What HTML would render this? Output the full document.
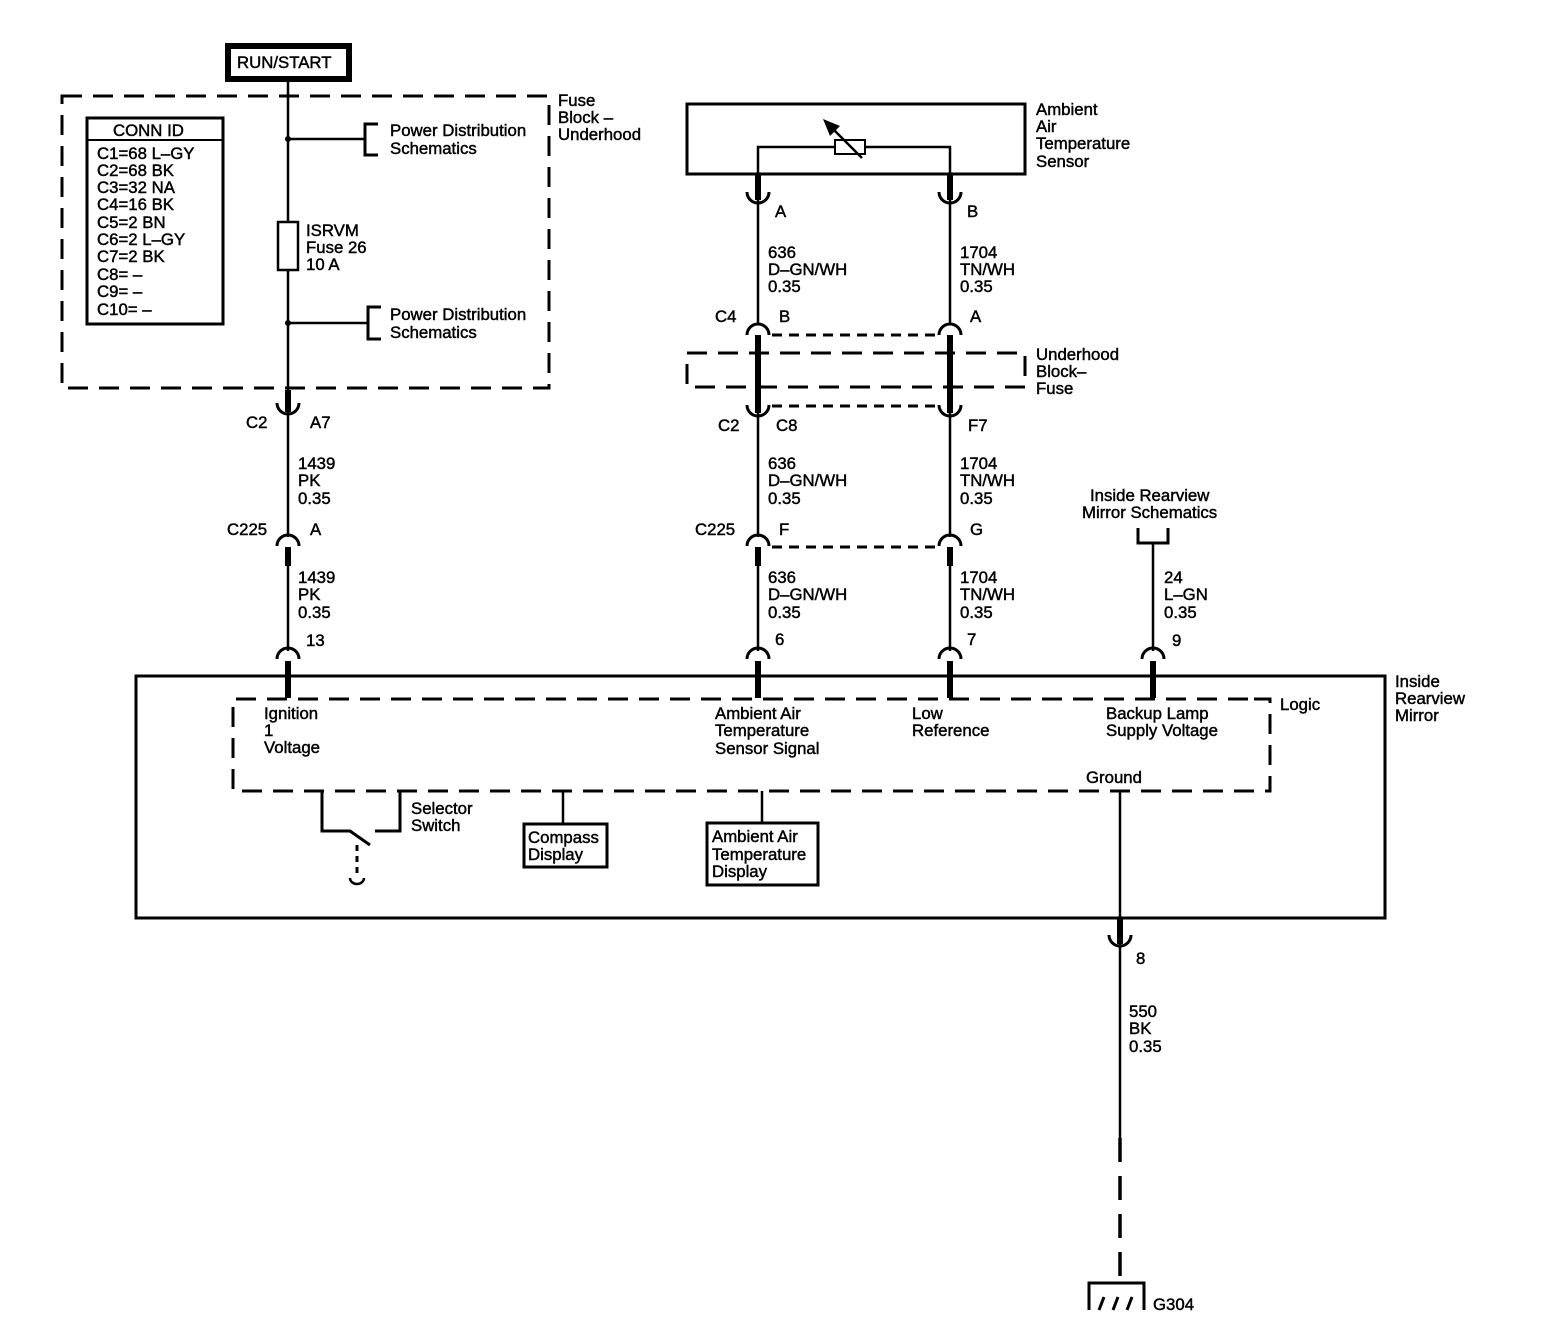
<!DOCTYPE html>
<html><head><meta charset="utf-8"><style>
html,body{margin:0;padding:0;background:#fff}
svg{display:block}
text{font-family:"Liberation Sans",Arial,sans-serif;font-size:16.8px;fill:#000;stroke:#000;stroke-width:0.45}
</style></head><body>
<svg width="1558" height="1344" viewBox="0 0 1558 1344" xmlns="http://www.w3.org/2000/svg">
<defs>
<g id="cupU"><path d="M-11,-8 A11,11 0 0 0 11,-8" fill="none" stroke="#000" stroke-width="3"/></g>
<g id="cupD"><path d="M-11,8 A11,11 0 0 1 11,8" fill="none" stroke="#000" stroke-width="3"/></g>
</defs>
<g fill="none" stroke="#000">
<rect x="228" y="46" width="121" height="33" stroke-width="6"/>
<rect x="62" y="96" width="487" height="292" stroke-width="3" stroke-dasharray="20,11"/>
<rect x="87" y="118" width="136" height="206" stroke-width="3"/>
<line x1="87" y1="140" x2="223" y2="140" stroke-width="2"/>
<line x1="288" y1="79" x2="288" y2="222" stroke-width="2.5"/>
<line x1="288" y1="270" x2="288" y2="390" stroke-width="2.5"/>
<rect x="278" y="222" width="20" height="48" stroke-width="2.5"/>
<line x1="288" y1="139" x2="365" y2="139" stroke-width="2.5"/>
<circle cx="288" cy="139" r="2.5" fill="#000"/>
<path d="M378,124 H365 V155 H378" stroke-width="3"/>
<line x1="288" y1="323" x2="368" y2="323" stroke-width="2.5"/>
<circle cx="288" cy="323" r="2.5" fill="#000"/>
<path d="M381,307 H368 V339 H381" stroke-width="3"/>
<line x1="288" y1="390" x2="288" y2="412" stroke-width="6"/>
<line x1="288" y1="412" x2="288" y2="537" stroke-width="2.5"/>
<line x1="288" y1="547" x2="288" y2="566" stroke-width="6"/>
<line x1="288" y1="566" x2="288" y2="651" stroke-width="2.5"/>
<line x1="288" y1="661" x2="288" y2="698" stroke-width="6"/>
<rect x="687" y="104" width="338" height="70" stroke-width="3"/>
<path d="M758,174 V147 H835 M865,147 H950 V174" stroke-width="2.5"/>
<rect x="835" y="140" width="30" height="14" stroke-width="2"/>
<line x1="862" y1="158" x2="830" y2="126" stroke-width="2.5"/>
<line x1="758" y1="174" x2="758" y2="200" stroke-width="6"/>
<line x1="950" y1="174" x2="950" y2="200" stroke-width="6"/>
<line x1="758" y1="200" x2="758" y2="324" stroke-width="2.5"/>
<line x1="950" y1="200" x2="950" y2="324" stroke-width="2.5"/>
<line x1="758" y1="335" x2="758" y2="413" stroke-width="6"/>
<line x1="950" y1="335" x2="950" y2="413" stroke-width="6"/>
<line x1="758" y1="413" x2="758" y2="537" stroke-width="2.5"/>
<line x1="950" y1="413" x2="950" y2="537" stroke-width="2.5"/>
<line x1="758" y1="547" x2="758" y2="566" stroke-width="6"/>
<line x1="950" y1="547" x2="950" y2="566" stroke-width="6"/>
<line x1="758" y1="566" x2="758" y2="651" stroke-width="2.5"/>
<line x1="950" y1="566" x2="950" y2="651" stroke-width="2.5"/>
<line x1="758" y1="661" x2="758" y2="698" stroke-width="6"/>
<line x1="950" y1="661" x2="950" y2="698" stroke-width="6"/>
<line x1="772" y1="335" x2="940" y2="335" stroke-width="3" stroke-dasharray="10,7"/>
<line x1="772" y1="406" x2="940" y2="406" stroke-width="3" stroke-dasharray="10,7"/>
<line x1="772" y1="547" x2="940" y2="547" stroke-width="3" stroke-dasharray="10,7"/>
<rect x="687" y="353" width="338" height="34" stroke-width="3" stroke-dasharray="20,11"/>
<path d="M1138,528 V543 H1168 V528" stroke-width="3"/>
<line x1="1153" y1="543" x2="1153" y2="651" stroke-width="2.5"/>
<line x1="1153" y1="661" x2="1153" y2="698" stroke-width="6"/>
<rect x="136" y="676" width="1249" height="242" stroke-width="3"/>
<path d="M1254,699 H1270 V791 H233 V699 H1254" stroke-width="3" stroke-dasharray="20,11"/>
<path d="M322,791 V831 H350 L370,845" stroke-width="3"/>
<path d="M375,831 H400 V791" stroke-width="3"/>
<line x1="357" y1="845" x2="357" y2="876" stroke-width="3" stroke-dasharray="6,5"/>
<path d="M350,878 A7,6 0 0 0 364,878" stroke-width="2.5"/>
<line x1="563" y1="791" x2="563" y2="823" stroke-width="2.5"/>
<rect x="524" y="824" width="83" height="43" stroke-width="3"/>
<line x1="762" y1="791" x2="762" y2="822" stroke-width="2.5"/>
<rect x="707" y="823" width="111" height="62" stroke-width="3"/>
<line x1="1120" y1="791" x2="1120" y2="918" stroke-width="2.5"/>
<line x1="1120" y1="918" x2="1120" y2="944" stroke-width="6"/>
<line x1="1120" y1="944" x2="1120" y2="1138" stroke-width="2.5"/>
<line x1="1120" y1="1138" x2="1120" y2="1283" stroke-width="3.5" stroke-dasharray="24,14"/>
<path d="M1089,1310 V1283 H1144 V1310" stroke-width="3"/>
<path d="M1099,1310 L1104,1297 M1113,1310 L1118,1297 M1127,1310 L1132,1297" stroke-width="3"/>
</g>
<polygon points="823,119 840,126 830,136" fill="#000"/>
<use href="#cupU" x="288" y="411"/>
<use href="#cupD" x="288" y="538"/>
<use href="#cupD" x="288" y="651"/>
<use href="#cupU" x="758" y="200"/><use href="#cupU" x="950" y="200"/>
<use href="#cupD" x="758" y="327"/><use href="#cupD" x="950" y="327"/>
<use href="#cupU" x="758" y="413"/><use href="#cupU" x="950" y="413"/>
<use href="#cupD" x="758" y="538"/><use href="#cupD" x="950" y="538"/>
<use href="#cupD" x="758" y="651"/><use href="#cupD" x="950" y="651"/>
<use href="#cupD" x="1153" y="651"/>
<use href="#cupU" x="1120" y="943"/>
<text x="237" y="68">RUN/START</text>
<text x="113" y="136">CONN ID</text>
<text x="97" y="159">C1=68 L–GY</text>
<text x="97" y="176">C2=68 BK</text>
<text x="97" y="193">C3=32 NA</text>
<text x="97" y="210">C4=16 BK</text>
<text x="97" y="228">C5=2 BN</text>
<text x="97" y="245">C6=2 L–GY</text>
<text x="97" y="262">C7=2 BK</text>
<text x="97" y="280">C8= –</text>
<text x="97" y="297">C9= –</text>
<text x="97" y="315">C10= –</text>
<text x="390" y="136">Power Distribution</text>
<text x="390" y="154">Schematics</text>
<text x="390" y="320">Power Distribution</text>
<text x="390" y="338">Schematics</text>
<text x="306" y="236">ISRVM</text>
<text x="306" y="253">Fuse 26</text>
<text x="306" y="270">10 A</text>
<text x="558" y="106">Fuse</text>
<text x="558" y="123">Block –</text>
<text x="558" y="140">Underhood</text>
<text x="246" y="428">C2</text><text x="310" y="428">A7</text>
<text x="298" y="469">1439</text><text x="298" y="486">PK</text><text x="298" y="504">0.35</text>
<text x="227" y="535">C225</text><text x="310" y="535">A</text>
<text x="298" y="583">1439</text><text x="298" y="600">PK</text><text x="298" y="618">0.35</text>
<text x="306" y="646">13</text>
<text x="1036" y="115">Ambient</text><text x="1036" y="132">Air</text><text x="1036" y="149">Temperature</text><text x="1036" y="167">Sensor</text>
<text x="775" y="217">A</text><text x="967" y="217">B</text>
<text x="768" y="258">636</text><text x="768" y="275">D–GN/WH</text><text x="768" y="292">0.35</text>
<text x="960" y="258">1704</text><text x="960" y="275">TN/WH</text><text x="960" y="292">0.35</text>
<text x="715" y="322">C4</text><text x="779" y="322">B</text><text x="970" y="322">A</text>
<text x="1036" y="360">Underhood</text><text x="1036" y="377">Block–</text><text x="1036" y="394">Fuse</text>
<text x="718" y="431">C2</text><text x="776" y="431">C8</text><text x="968" y="431">F7</text>
<text x="768" y="469">636</text><text x="768" y="486">D–GN/WH</text><text x="768" y="504">0.35</text>
<text x="960" y="469">1704</text><text x="960" y="486">TN/WH</text><text x="960" y="504">0.35</text>
<text x="695" y="535">C225</text><text x="779" y="535">F</text><text x="970" y="535">G</text>
<text x="768" y="583">636</text><text x="768" y="600">D–GN/WH</text><text x="768" y="618">0.35</text>
<text x="960" y="583">1704</text><text x="960" y="600">TN/WH</text><text x="960" y="618">0.35</text>
<text x="775" y="645">6</text><text x="967" y="645">7</text>
<text x="1090" y="501">Inside Rearview</text><text x="1082" y="518">Mirror Schematics</text>
<text x="1164" y="583">24</text><text x="1164" y="600">L–GN</text><text x="1164" y="618">0.35</text>
<text x="1172" y="646">9</text>
<text x="1395" y="687">Inside</text><text x="1395" y="704">Rearview</text><text x="1395" y="721">Mirror</text>
<text x="1280" y="710">Logic</text>
<text x="264" y="719">Ignition</text><text x="264" y="736">1</text><text x="264" y="753">Voltage</text>
<text x="715" y="719">Ambient Air</text><text x="715" y="736">Temperature</text><text x="715" y="754">Sensor Signal</text>
<text x="912" y="719">Low</text><text x="912" y="736">Reference</text>
<text x="1106" y="719">Backup Lamp</text><text x="1106" y="736">Supply Voltage</text>
<text x="1086" y="783">Ground</text>
<text x="411" y="814">Selector</text><text x="411" y="831">Switch</text>
<text x="528" y="843">Compass</text><text x="528" y="860">Display</text>
<text x="712" y="842">Ambient Air</text><text x="712" y="860">Temperature</text><text x="712" y="877">Display</text>
<text x="1136" y="964">8</text>
<text x="1129" y="1017">550</text><text x="1129" y="1034">BK</text><text x="1129" y="1052">0.35</text>
<text x="1153" y="1310">G304</text>
</svg>
</body></html>
